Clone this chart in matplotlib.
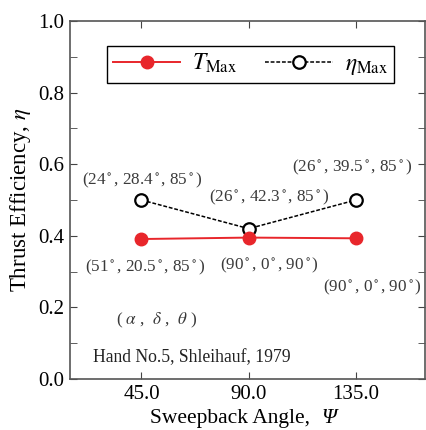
import matplotlib
matplotlib.use('Agg')
import matplotlib.pyplot as plt
import numpy as np

plt.rcParams['font.family'] = ['Liberation Serif', 'DejaVu Serif']
plt.rcParams['mathtext.fontset'] = 'stix'

# data
sweep = [45.0, 90.0, 135.0]
t_max = [0.391, 0.395, 0.393]
eta_max = [0.50, 0.42, 0.50]
eta_labels = ['(24$^\\circ$, 28.4$^\\circ$, 85$^\\circ$)',
              '(26$^\\circ$, 42.3$^\\circ$, 85$^\\circ$)',
              '(26$^\\circ$, 39.5$^\\circ$, 85$^\\circ$)']
t_labels = ['(51$^\\circ$, 20.5$^\\circ$, 85$^\\circ$)',
            '(90$^\\circ$, 0$^\\circ$, 90$^\\circ$)',
            '(90$^\\circ$, 0$^\\circ$, 90$^\\circ$)']
# label anchor points (x, y) in data units
eta_pos = [(45.3, 0.556), (98.5, 0.506), (133.4, 0.592)]
t_pos = [(46.7, 0.313), (98.8, 0.316), (141.8, 0.257)]

fig = plt.figure(figsize=(4.26, 4.30), dpi=100)
ax = fig.add_axes([70/426, 1 - 379/430, 355/426, 358/430])

ax.plot(sweep, t_max, color='#e8262b', lw=1.4, marker='o', ms=9,
        markerfacecolor='#e8262b', markeredgecolor='#e8262b', label='$T_{\\rm Max}$', zorder=3)
ax.plot(sweep, eta_max, color='black', lw=1.1, ls=(0, (2.5, 1.2)), marker='o', ms=9,
        markerfacecolor='white', markeredgecolor='black', markeredgewidth=1.6,
        label='$\\eta_{\\rm Max}$', zorder=2)

ax.set_xlim(15, 164)
ax.set_ylim(0, 1.0)
ax.set_xticks(sweep)
ax.set_xticklabels(['45.0', '90.0', '135.0'])
ax.set_yticks(np.arange(0, 1.01, 0.2))
ax.set_yticklabels(['0.0', '0.2', '0.4', '0.6', '0.8', '1.0'])
ax.set_yticks(np.arange(0, 1.01, 0.1), minor=True)
ax.tick_params(direction='in', which='both', top=True, right=True,
               labelsize=15, length=5, color='#444444', pad=4)
for s in ax.spines.values():
    s.set_color('#555555')
    s.set_linewidth(1.2)

# x label in two parts so that Psi can be italic
fig.text(150/426, 1 - 423/430, 'Sweepback Angle,', fontsize=15.5, ha='left', va='baseline')
fig.text(321/426, 1 - 423/430, 'Ψ', fontsize=15.5, style='italic', ha='left', va='baseline')
ax.set_ylabel('Thrust Efficiency, $\\eta$', fontsize=16.5, labelpad=4)

fs = 12.3
tc = '#3a3a3a'
for (x, y), s in zip(eta_pos, eta_labels):
    ax.text(x, y, s, ha='center', va='center', fontsize=fs, color=tc)
for (x, y), s in zip(t_pos, t_labels):
    ax.text(x, y, s, ha='center', va='center', fontsize=fs, color=tc)
ax.text(51.2, 0.165, '( $\\alpha$ ,  $\\delta$ ,  $\\theta$ )', ha='center', va='center',
        fontsize=fs, color=tc)
ax.text(24.5, 0.059, 'Hand No.5, Shleihauf, 1979', ha='left', va='center',
        fontsize=12.7, color='#222222')

leg = ax.legend(loc='upper center', bbox_to_anchor=(0.508, 0.930), ncol=2,
                fontsize=17, frameon=True, fancybox=False, framealpha=1,
                edgecolor='black', handlelength=2.85, columnspacing=1.2,
                borderpad=0.25, handletextpad=0.5, borderaxespad=0)
leg.get_frame().set_linewidth(1.0)

fig.savefig('out.png', dpi=100)
